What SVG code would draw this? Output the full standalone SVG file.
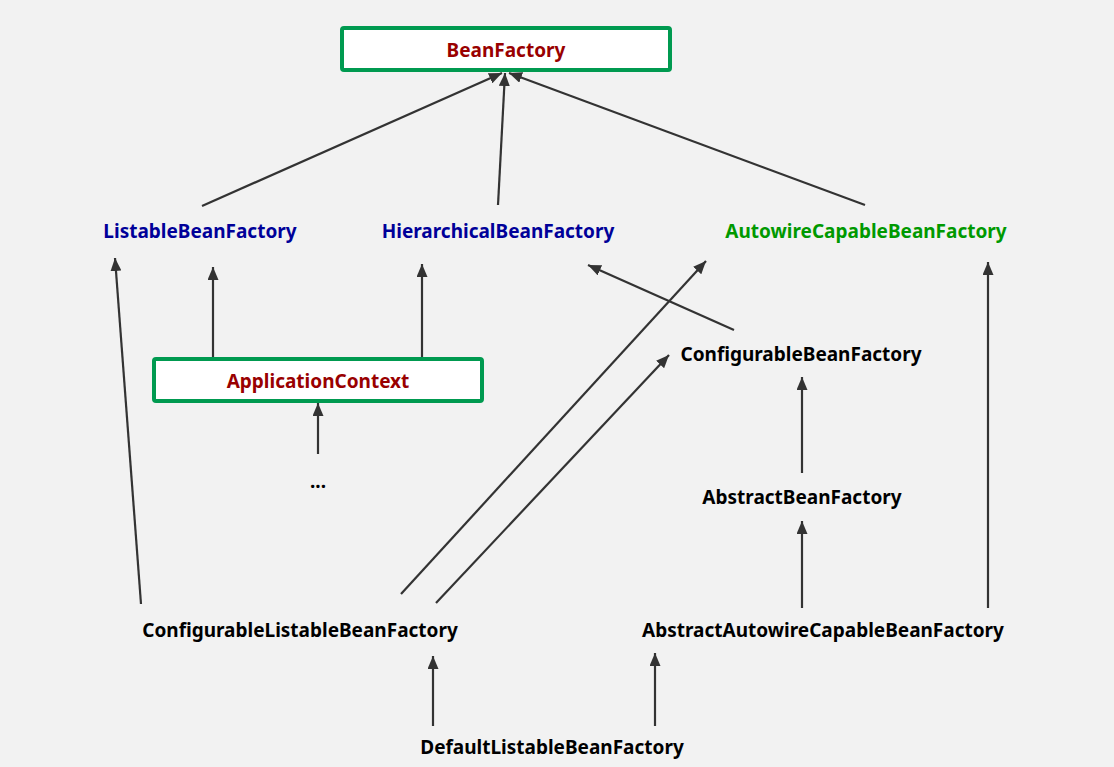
<svg xmlns="http://www.w3.org/2000/svg" width="1114" height="767" viewBox="0 0 1114 767">
<style>
text{font-family:"Noto Sans","Open Sans","DejaVu Sans",sans-serif;font-weight:bold;font-size:19px;text-anchor:middle;dominant-baseline:central}
.box{fill:#ffffff;stroke:#009a50;stroke-width:4}
.red{fill:#990000}
.blue{fill:#000099}
.green{fill:#009900}
.black{fill:#000000}
.edge{stroke:#333333;stroke-width:2.2;fill:none;marker-end:url(#arr)}
</style>
<defs>
<marker id="arr" markerUnits="userSpaceOnUse" markerWidth="13" markerHeight="11" refX="13" refY="5.5" orient="auto">
<path d="M0,0 L13,5.5 L0,11 Z" fill="#333333"/>
</marker>
</defs>
<rect width="1114" height="767" fill="#f2f2f2"/>
<g id="connectors">
<line class="edge" x1="202" y1="206" x2="502" y2="73"/>
<line class="edge" x1="498" y1="205" x2="505" y2="73"/>
<line class="edge" x1="865" y1="205" x2="509" y2="73"/>
<line class="edge" x1="213" y1="357" x2="213" y2="267"/>
<line class="edge" x1="422" y1="357" x2="422" y2="264"/>
<line class="edge" x1="318" y1="454" x2="318" y2="403"/>
<line class="edge" x1="141" y1="604" x2="115" y2="258"/>
<line class="edge" x1="734" y1="330" x2="588" y2="265"/>
<line class="edge" x1="401" y1="594" x2="706" y2="261"/>
<line class="edge" x1="436" y1="603" x2="669" y2="355"/>
<line class="edge" x1="802" y1="473" x2="802" y2="377"/>
<line class="edge" x1="802" y1="608" x2="802" y2="521"/>
<line class="edge" x1="988" y1="608" x2="988" y2="262"/>
<line class="edge" x1="433" y1="726" x2="433" y2="656"/>
<line class="edge" x1="655" y1="726" x2="655" y2="653"/>
</g>
<g id="BeanFactory">
<rect class="box" x="342" y="28" width="328" height="42" rx="2"/>
<text class="red" x="506" y="50">BeanFactory</text>
</g>
<g id="ListableBeanFactory">
<text class="blue" x="200" y="231">ListableBeanFactory</text>
</g>
<g id="HierarchicalBeanFactory">
<text class="blue" x="498" y="231">HierarchicalBeanFactory</text>
</g>
<g id="AutowireCapableBeanFactory">
<text class="green" x="866" y="231">AutowireCapableBeanFactory</text>
</g>
<g id="ApplicationContext">
<rect class="box" x="154" y="359" width="328" height="42" rx="2"/>
<text class="red" x="318" y="381">ApplicationContext</text>
</g>
<g id="ellipsis">
<text class="black" x="318" y="481">...</text>
</g>
<g id="ConfigurableBeanFactory">
<text class="black" x="801" y="354">ConfigurableBeanFactory</text>
</g>
<g id="AbstractBeanFactory">
<text class="black" x="802" y="497">AbstractBeanFactory</text>
</g>
<g id="ConfigurableListableBeanFactory">
<text class="black" x="300" y="630">ConfigurableListableBeanFactory</text>
</g>
<g id="AbstractAutowireCapableBeanFactory">
<text class="black" x="823" y="630">AbstractAutowireCapableBeanFactory</text>
</g>
<g id="DefaultListableBeanFactory">
<text class="black" x="552" y="747">DefaultListableBeanFactory</text>
</g>
</svg>
